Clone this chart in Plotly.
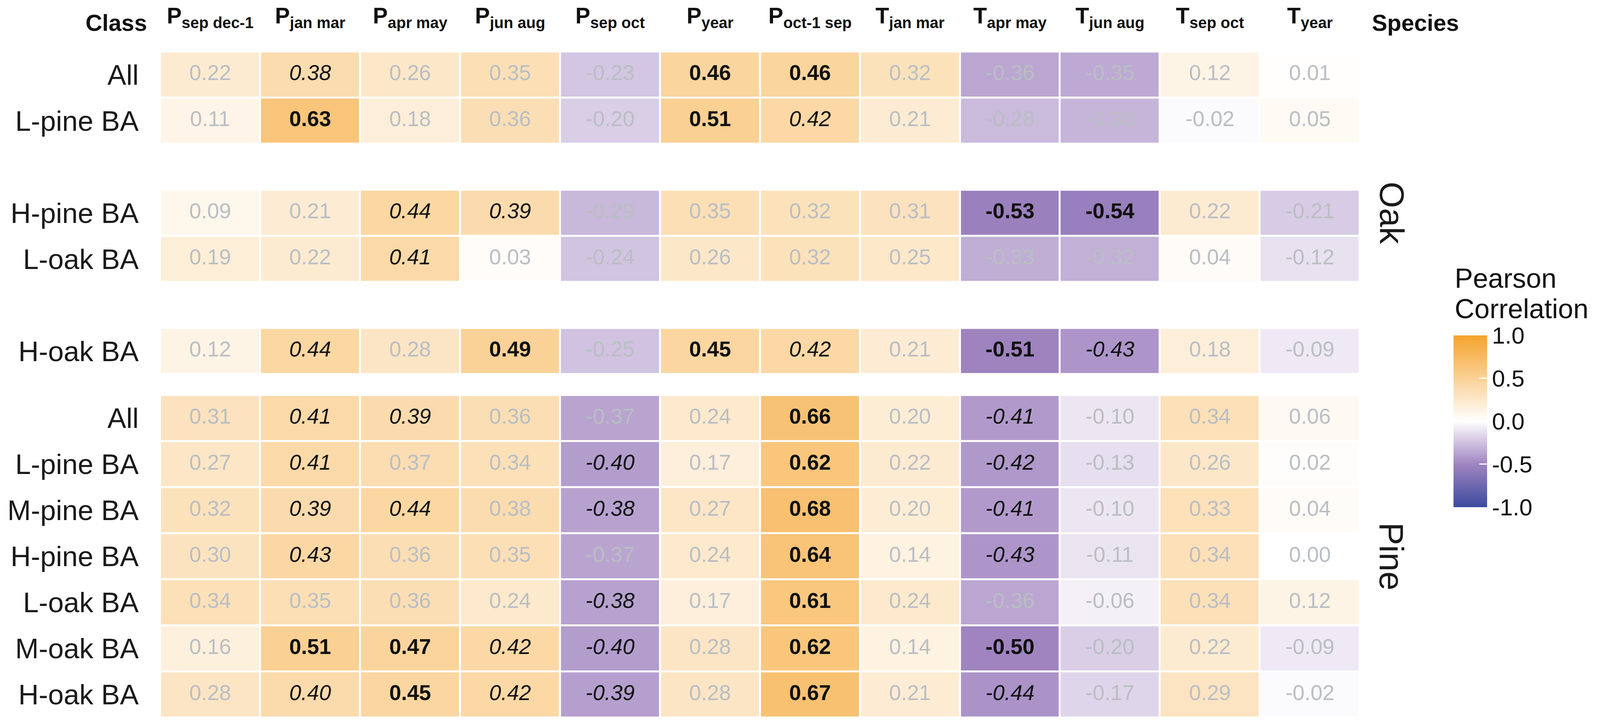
import plotly.graph_objects as go
from plotly.subplots import make_subplots

# ---------------- data ----------------
var_letter = ["P", "P", "P", "P", "P", "P", "P", "T", "T", "T", "T", "T"]
var_period = ["sep dec-1", "jan mar", "apr may", "jun aug", "sep oct", "year",
              "oct-1 sep", "jan mar", "apr may", "jun aug", "sep oct", "year"]

classes = ["All", "L-pine BA", "M-pine BA", "H-pine BA", "L-oak BA", "M-oak BA", "H-oak BA"]
species = ["Oak", "Pine"]

# Oak panel (M-pine BA and M-oak BA absent)
oak_all    = [0.22, 0.38, 0.26, 0.35, -0.23, 0.46, 0.46, 0.32, -0.36, -0.35, 0.12, 0.01]
oak_lpine  = [0.11, 0.63, 0.18, 0.36, -0.20, 0.51, 0.42, 0.21, -0.28, -0.30, -0.02, 0.05]
oak_hpine  = [0.09, 0.21, 0.44, 0.39, -0.29, 0.35, 0.32, 0.31, -0.53, -0.54, 0.22, -0.21]
oak_loak   = [0.19, 0.22, 0.41, 0.03, -0.24, 0.26, 0.32, 0.25, -0.33, -0.32, 0.04, -0.12]
oak_hoak   = [0.12, 0.44, 0.28, 0.49, -0.25, 0.45, 0.42, 0.21, -0.51, -0.43, 0.18, -0.09]

# significance: b = bold (strong), i = italic (moderate), n = not significant
oak_all_sig   = ["n", "i", "n", "n", "n", "b", "b", "n", "n", "n", "n", "n"]
oak_lpine_sig = ["n", "b", "n", "n", "n", "b", "i", "n", "n", "n", "n", "n"]
oak_hpine_sig = ["n", "n", "i", "i", "n", "n", "n", "n", "b", "b", "n", "n"]
oak_loak_sig  = ["n", "n", "i", "n", "n", "n", "n", "n", "n", "n", "n", "n"]
oak_hoak_sig  = ["n", "i", "n", "b", "n", "b", "i", "n", "b", "i", "n", "n"]

# Pine panel
pine_all   = [0.31, 0.41, 0.39, 0.36, -0.37, 0.24, 0.66, 0.20, -0.41, -0.10, 0.34, 0.06]
pine_lpine = [0.27, 0.41, 0.37, 0.34, -0.40, 0.17, 0.62, 0.22, -0.42, -0.13, 0.26, 0.02]
pine_mpine = [0.32, 0.39, 0.44, 0.38, -0.38, 0.27, 0.68, 0.20, -0.41, -0.10, 0.33, 0.04]
pine_hpine = [0.30, 0.43, 0.36, 0.35, -0.37, 0.24, 0.64, 0.14, -0.43, -0.11, 0.34, 0.00]
pine_loak  = [0.34, 0.35, 0.36, 0.24, -0.38, 0.17, 0.61, 0.24, -0.36, -0.06, 0.34, 0.12]
pine_moak  = [0.16, 0.51, 0.47, 0.42, -0.40, 0.28, 0.62, 0.14, -0.50, -0.20, 0.22, -0.09]
pine_hoak  = [0.28, 0.40, 0.45, 0.42, -0.39, 0.28, 0.67, 0.21, -0.44, -0.17, 0.29, -0.02]

pine_all_sig   = ["n", "i", "i", "n", "n", "n", "b", "n", "i", "n", "n", "n"]
pine_lpine_sig = ["n", "i", "n", "n", "i", "n", "b", "n", "i", "n", "n", "n"]
pine_mpine_sig = ["n", "i", "i", "n", "i", "n", "b", "n", "i", "n", "n", "n"]
pine_hpine_sig = ["n", "i", "n", "n", "n", "n", "b", "n", "i", "n", "n", "n"]
pine_loak_sig  = ["n", "n", "n", "n", "i", "n", "b", "n", "n", "n", "n", "n"]
pine_moak_sig  = ["n", "b", "b", "i", "i", "n", "b", "n", "b", "n", "n", "n"]
pine_hoak_sig  = ["n", "i", "b", "i", "i", "n", "b", "n", "i", "n", "n", "n"]

oak_rows = {"All": (oak_all, oak_all_sig), "L-pine BA": (oak_lpine, oak_lpine_sig),
            "H-pine BA": (oak_hpine, oak_hpine_sig), "L-oak BA": (oak_loak, oak_loak_sig),
            "H-oak BA": (oak_hoak, oak_hoak_sig)}
pine_rows = {"All": (pine_all, pine_all_sig), "L-pine BA": (pine_lpine, pine_lpine_sig),
             "M-pine BA": (pine_mpine, pine_mpine_sig), "H-pine BA": (pine_hpine, pine_hpine_sig),
             "L-oak BA": (pine_loak, pine_loak_sig), "M-oak BA": (pine_moak, pine_moak_sig),
             "H-oak BA": (pine_hoak, pine_hoak_sig)}

# ---------------- figure ----------------
REF_W, REF_H = 4205, 1862      # reference picture size
VIEW_W, VIEW_H = 4096, 1862    # usable page viewport
OFF = 8                        # default page body margin
Wf, Hf = VIEW_W - 2 * OFF, VIEW_H - 2 * OFF
SX = VIEW_W / REF_W


def fx(px):
    return (px * SX - OFF) / Wf


def fy(py):
    return 1 - (py - OFF) / Hf


FONT = "Liberation Sans, Arial, sans-serif"
ncol = len(var_period)
xpos = list(range(ncol))
ypos = list(range(len(classes)))
col_labels = [f"<b>{l}<sub>{p}</sub></b>" for l, p in zip(var_letter, var_period)]

colorscale = [[0.0, "#3b4a9e"], [0.25, "#a084c0"], [0.5, "#ffffff"], [1.0, "#f5a32c"]]

fig = make_subplots(rows=2, cols=1, shared_xaxes=True, vertical_spacing=0.03)

styles = {
    "b": dict(color="#111111", weight="bold", style="normal"),
    "i": dict(color="#111111", weight="normal", style="italic"),
    "n": dict(color="#babec3", weight="normal", style="normal"),
}

for r, rows in enumerate([oak_rows, pine_rows], start=1):
    z = []
    for c in classes:
        z.append(rows[c][0] if c in rows else [None] * ncol)
    fig.add_trace(go.Heatmap(
        z=z, x=xpos, y=ypos, coloraxis="coloraxis", xgap=5, ygap=5,
        hoverinfo="skip"), row=r, col=1)
    present = [c for c in classes if c in rows]
    for code, st in styles.items():
        xs, ys, ts = [], [], []
        for c in present:
            vals, sig = rows[c]
            for j in range(ncol):
                if sig[j] == code:
                    xs.append(xpos[j])
                    ys.append(classes.index(c))
                    ts.append(f"{vals[j]:.2f}")
        fig.add_trace(go.Scatter(
            x=xs, y=ys, text=ts, mode="text", hoverinfo="skip", showlegend=False,
            textfont=dict(family=FONT, size=55, color=st["color"],
                          weight=st["weight"], style=st["style"])), row=r, col=1)
    fig.update_yaxes(row=r, col=1, tickmode="array",
                     tickvals=[classes.index(c) for c in present], ticktext=present,
                     range=[len(classes) - 0.5, -0.5], showgrid=False, zeroline=False,
                     ticks="", ticklabelstandoff=54,
                     tickfont=dict(family=FONT, size=72, color="#1a1a1a"))

fig.update_xaxes(range=[-0.5, ncol - 0.5], showgrid=False, zeroline=False, ticks="",
                 domain=[fx(421), fx(3574)])
fig.update_xaxes(row=1, col=1, side="top", tickmode="array", tickvals=xpos,
                 ticktext=col_labels, showticklabels=True, ticklabelstandoff=60,
                 tickfont=dict(family=FONT, size=57, color="#111111"))
fig.update_xaxes(row=2, col=1, showticklabels=False)
fig.update_layout(
    yaxis=dict(domain=[fy(954), fy(124)]),
    yaxis2=dict(domain=[fy(1838), fy(1008)]),
)

fig.update_layout(
    width=Wf, height=Hf, margin=dict(l=0, r=0, t=0, b=0),
    paper_bgcolor="white", plot_bgcolor="white", showlegend=False,
    font=dict(family=FONT, color="#111111"),
    coloraxis=dict(
        colorscale=colorscale, cmin=-1, cmax=1,
        colorbar=dict(
            x=fx(3820), xanchor="left", y=fy(1075), yanchor="middle",
            len=442 / Hf, lenmode="fraction", thickness=86, thicknessmode="pixels",
            xpad=0, ypad=0, outlinewidth=0,
            tickmode="array", tickvals=[-1, -0.5, 0, 0.5, 1],
            ticktext=["-1.0", "-0.5", "0.0", "0.5", "1.0"],
            ticks="inside", ticklen=20, tickwidth=3, tickcolor="white",
            tickfont=dict(family=FONT, size=60, color="#111111"),
        ),
    ),
    annotations=[
        dict(text="<b>Class</b>", x=fx(388), y=fy(50), xref="paper", yref="paper",
             xanchor="right", yanchor="middle", showarrow=False,
             font=dict(family=FONT, size=59, color="#111111")),
        dict(text="<b>Species</b>", x=fx(3603), y=fy(50), xref="paper", yref="paper",
             xanchor="left", yanchor="middle", showarrow=False,
             font=dict(family=FONT, size=59, color="#111111")),
        dict(text=species[0], x=fx(3658), y=fy(539), xref="paper", yref="paper",
             xanchor="center", yanchor="middle", showarrow=False, textangle=90,
             font=dict(family=FONT, size=87, color="#1a1a1a")),
        dict(text=species[1], x=fx(3658), y=fy(1423), xref="paper", yref="paper",
             xanchor="center", yanchor="middle", showarrow=False, textangle=90,
             font=dict(family=FONT, size=87, color="#1a1a1a")),
        dict(text="Pearson", x=fx(3821), y=fy(707), xref="paper",
             yref="paper", xanchor="left", yanchor="middle", showarrow=False,
             font=dict(family=FONT, size=70, color="#111111")),
        dict(text="Correlation", x=fx(3821), y=fy(786), xref="paper",
             yref="paper", xanchor="left", yanchor="middle", showarrow=False,
             font=dict(family=FONT, size=70, color="#111111")),
    ],
)

fig.write_html("out.html")
